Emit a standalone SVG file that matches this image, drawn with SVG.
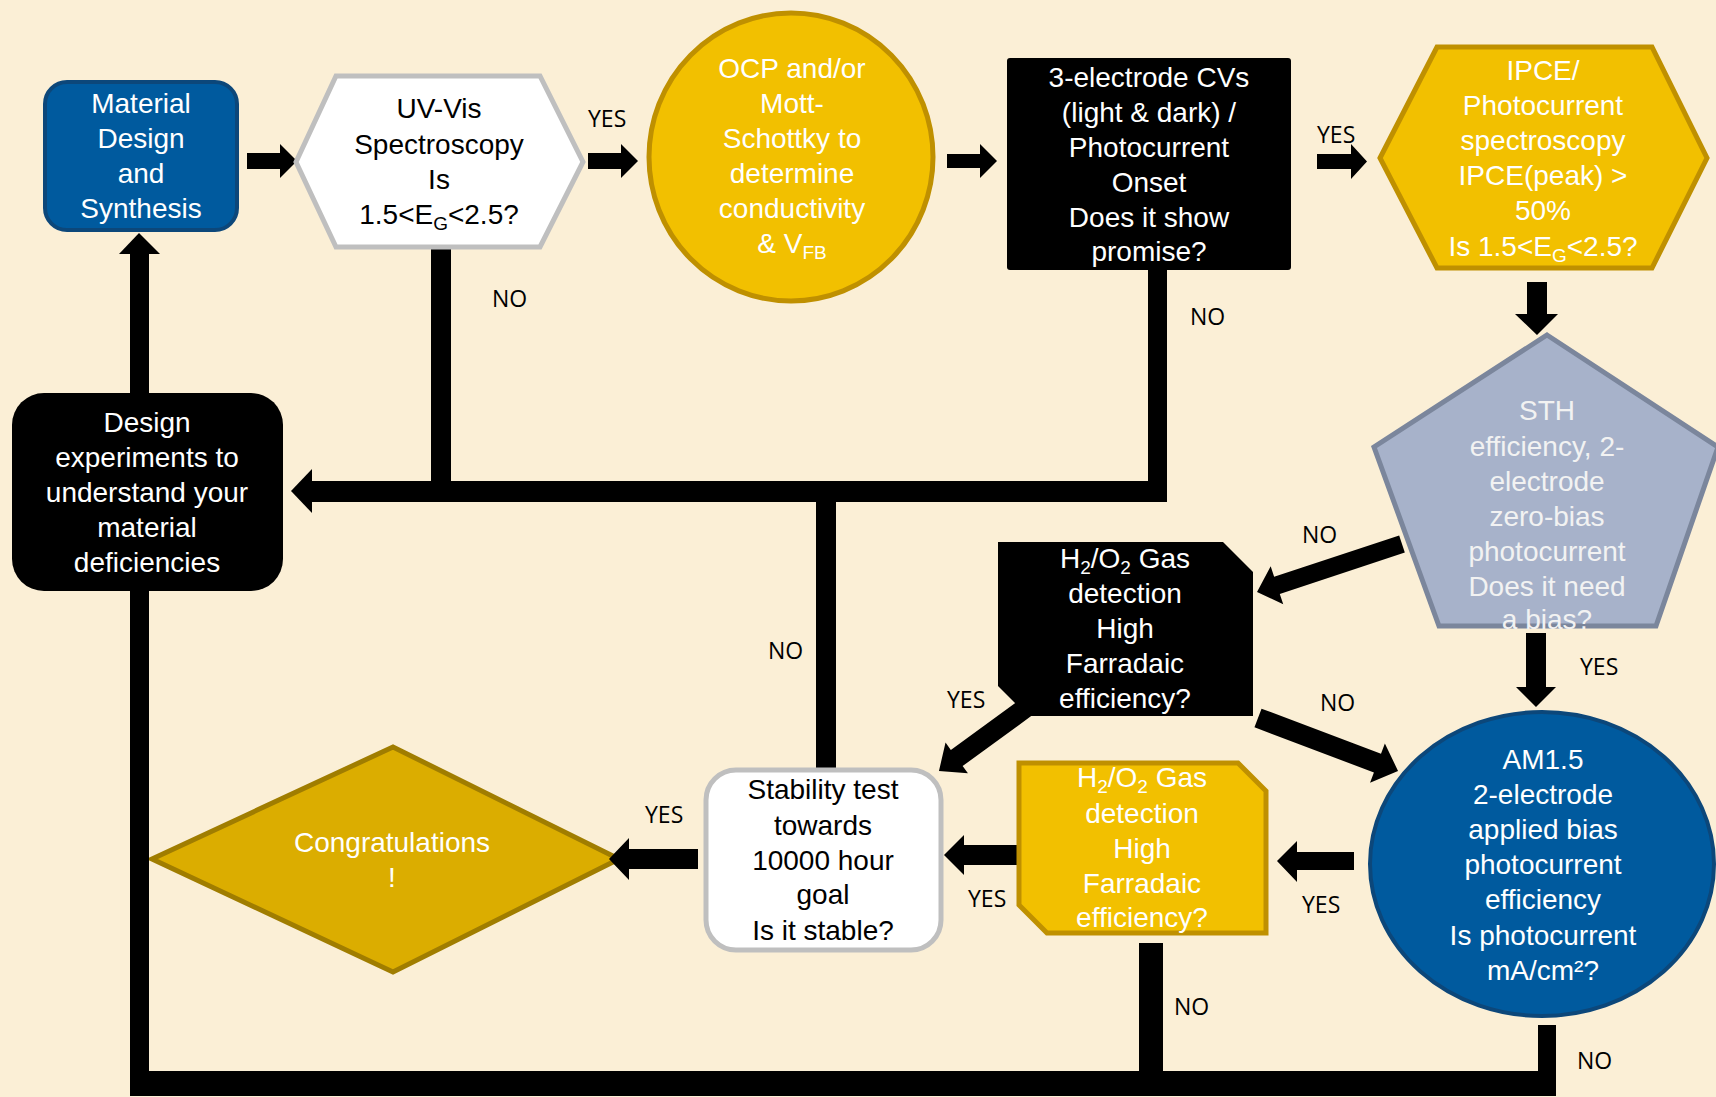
<svg xmlns="http://www.w3.org/2000/svg" width="1716" height="1097" viewBox="0 0 1716 1097">
<style>
.t{font-family:"Liberation Sans",Arial,sans-serif;font-size:28px;text-anchor:middle}
.w{fill:#ffffff}
.k{fill:#000000}
.g{fill:#f2f2f2}
.sub{font-size:19px}
.lbl{font-family:"Open Sans","Liberation Sans",sans-serif;font-size:23px;fill:#000000}
.yel{fill:#f2c000;stroke:#bf9000;stroke-width:5}
.blue{fill:#005a9e;stroke:#0c477a;stroke-width:4}
.wht{fill:#ffffff;stroke:#bfbfbf;stroke-width:5}
.blk{fill:#000000}
.bar{fill:#000000}
</style>
<rect x="0" y="0" width="1716" height="1097" fill="#fbefd6"/>

<g id="congrats">
  <polygon points="152,859 393,747 619,859 393,972" fill="#dbad00" stroke="#a07d00" stroke-width="5"/>
  <text class="t w"><tspan x="392" y="852">Congratulations</tspan><tspan x="392" y="887">!</tspan></text>
</g>

<g id="connectors">
  <!-- feedback lines -->
  <rect class="bar" x="130" y="254" width="19" height="842"/>
  <polygon class="bar" points="119,254 139,233 160,254"/>
  <rect class="bar" x="431" y="247" width="20" height="255"/>
  <rect class="bar" x="1148" y="268" width="19" height="234"/>
  <rect class="bar" x="312" y="481" width="855" height="21"/>
  <polygon class="bar" points="312,469 291,491 312,513"/>
  <rect class="bar" x="816" y="481" width="20" height="290"/>
  <rect class="bar" x="130" y="1071" width="1426" height="25"/>
  <rect class="bar" x="1139" y="943" width="24" height="153"/>
  <rect class="bar" x="1538" y="1025" width="18" height="71"/>
  <!-- flow arrows -->
  <polygon class="bar" points="247,153 280,153 280,144 297,161 280,178 280,169 247,169"/>
  <polygon class="bar" points="588,153 621,153 621,144 638,161 621,178 621,169 588,169"/>
  <polygon class="bar" points="947,154 980,154 980,144 997,161 980,178 980,168 947,168"/>
  <polygon class="bar" points="1317,154 1351,154 1351,144 1367,161.5 1351,179 1351,169 1317,169"/>
  <polygon class="bar" points="1527,282 1527,314 1515,314 1537,335 1558,314 1547,314 1547,282"/>
  <polygon class="bar" points="1526,633 1526,687 1516,687 1536,707 1556,687 1546,687 1546,633"/>
  <polygon class="bar" points="1354,852 1297,852 1297,841 1277,861 1297,882 1297,870 1354,870"/>
  <polygon class="bar" points="1019,845 964,845 964,835 944,855 964,875 964,865 1019,865"/>
  <polygon class="bar" points="698,849 629,849 629,838 609,859 629,880 629,869 698,869"/>
  <polygon class="bar" transform="translate(1402 544) rotate(161.7)" points="0,-9 131.7,-9 131.7,-20 152.7,0 131.7,20 131.7,9 0,9"/>
  <polygon class="bar" transform="translate(1258 718) rotate(20.7)" points="0,-10 127.7,-10 127.7,-21 149.7,0 127.7,21 127.7,10 0,10"/>
  <polygon class="bar" transform="translate(1028 706) rotate(143.9)" points="0,-10 88.2,-10 88.2,-19 110.2,0 88.2,19 88.2,10 0,10"/>
  <!-- labels -->
  <text class="lbl" x="588" y="127">YES</text>
  <text class="lbl" x="492" y="307">NO</text>
  <text class="lbl" x="1317" y="143">YES</text>
  <text class="lbl" x="1190" y="325">NO</text>
  <text class="lbl" x="1302" y="543">NO</text>
  <text class="lbl" x="1580" y="675">YES</text>
  <text class="lbl" x="1320" y="711">NO</text>
  <text class="lbl" x="947" y="708">YES</text>
  <text class="lbl" x="768" y="659">NO</text>
  <text class="lbl" x="645" y="823">YES</text>
  <text class="lbl" x="968" y="907">YES</text>
  <text class="lbl" x="1302" y="913">YES</text>
  <text class="lbl" x="1174" y="1015">NO</text>
  <text class="lbl" x="1577" y="1069">NO</text>
</g>

<g id="material">
  <rect class="blue" x="45" y="82" width="192" height="148" rx="22"/>
  <text class="t w"><tspan x="141" y="113">Material</tspan><tspan x="141" y="148">Design</tspan><tspan x="141" y="183">and</tspan><tspan x="141" y="218">Synthesis</tspan></text>
</g>

<g id="uvvis">
  <polygon class="wht" points="296,162 336,76 540,76 583,162 540,247 336,247"/>
  <text class="t k"><tspan x="439" y="118">UV-Vis</tspan><tspan x="439" y="154">Spectroscopy</tspan><tspan x="439" y="189">Is</tspan><tspan x="439" y="224">1.5&lt;E<tspan class="sub" dy="6">G</tspan><tspan dy="-6">&lt;2.5?</tspan></tspan></text>
</g>

<g id="ocp">
  <ellipse class="yel" cx="791" cy="157" rx="142" ry="144"/>
  <text class="t w"><tspan x="792" y="78">OCP and/or</tspan><tspan x="792" y="113">Mott-</tspan><tspan x="792" y="148">Schottky to</tspan><tspan x="792" y="183">determine</tspan><tspan x="792" y="218">conductivity</tspan><tspan x="792" y="253">&amp; V<tspan class="sub" dy="6">FB</tspan></tspan></text>
</g>

<g id="cv3">
  <rect class="blk" x="1007" y="58" width="284" height="212" rx="3"/>
  <text class="t w"><tspan x="1149" y="87">3-electrode CVs</tspan><tspan x="1149" y="122">(light &amp; dark) /</tspan><tspan x="1149" y="157">Photocurrent</tspan><tspan x="1149" y="192">Onset</tspan><tspan x="1149" y="227">Does it show</tspan><tspan x="1149" y="261">promise?</tspan></text>
</g>

<g id="ipce">
  <polygon class="yel" points="1380,158 1437,47 1652,47 1707,158 1652,268 1437,268"/>
  <text class="t w"><tspan x="1543" y="80">IPCE/</tspan><tspan x="1543" y="115">Photocurrent</tspan><tspan x="1543" y="150">spectroscopy</tspan><tspan x="1543" y="185">IPCE(peak) &gt;</tspan><tspan x="1543" y="220">50%</tspan><tspan x="1543" y="256">Is 1.5&lt;E<tspan class="sub" dy="6">G</tspan><tspan dy="-6">&lt;2.5?</tspan></tspan></text>
</g>

<g id="sth">
  <polygon points="1547,335 1718,447 1656,626 1439,626 1374,447" fill="#a7b2ca" stroke="#7b869c" stroke-width="5"/>
  <text class="t g"><tspan x="1547" y="420">STH</tspan><tspan x="1547" y="456">efficiency, 2-</tspan><tspan x="1547" y="491">electrode</tspan><tspan x="1547" y="526">zero-bias</tspan><tspan x="1547" y="561">photocurrent</tspan><tspan x="1547" y="596">Does it need</tspan><tspan x="1547" y="629">a bias?</tspan></text>
</g>

<g id="design">
  <rect class="blk" x="12" y="393" width="271" height="198" rx="32"/>
  <text class="t w"><tspan x="147" y="432">Design</tspan><tspan x="147" y="467">experiments to</tspan><tspan x="147" y="502">understand your</tspan><tspan x="147" y="537">material</tspan><tspan x="147" y="572">deficiencies</tspan></text>
</g>

<g id="gas1">
  <path class="blk" d="M998,542 H1223 L1253,572 V716 H1028 L998,686 Z"/>
  <text class="t w"><tspan x="1125" y="568">H<tspan class="sub" dy="6">2</tspan><tspan dy="-6">/O</tspan><tspan class="sub" dy="6">2</tspan><tspan dy="-6"> Gas</tspan></tspan><tspan x="1125" y="603">detection</tspan><tspan x="1125" y="638">High</tspan><tspan x="1125" y="673">Farradaic</tspan><tspan x="1125" y="708">efficiency?</tspan></text>
</g>

<g id="am15">
  <ellipse class="blue" cx="1542" cy="864" rx="172" ry="152"/>
  <text class="t w"><tspan x="1543" y="769">AM1.5</tspan><tspan x="1543" y="804">2-electrode</tspan><tspan x="1543" y="839">applied bias</tspan><tspan x="1543" y="874">photocurrent</tspan><tspan x="1543" y="909">efficiency</tspan><tspan x="1543" y="945">Is photocurrent</tspan><tspan x="1543" y="980">mA/cm²?</tspan></text>
</g>

<g id="gas2">
  <path class="yel" d="M1019,763 H1238 L1266,791 V933 H1047 L1019,905 Z"/>
  <text class="t w"><tspan x="1142" y="787">H<tspan class="sub" dy="6">2</tspan><tspan dy="-6">/O</tspan><tspan class="sub" dy="6">2</tspan><tspan dy="-6"> Gas</tspan></tspan><tspan x="1142" y="823">detection</tspan><tspan x="1142" y="858">High</tspan><tspan x="1142" y="893">Farradaic</tspan><tspan x="1142" y="927">efficiency?</tspan></text>
</g>

<g id="stability">
  <rect class="wht" x="706" y="770" width="235" height="180" rx="30"/>
  <text class="t k"><tspan x="823" y="799">Stability test</tspan><tspan x="823" y="835">towards</tspan><tspan x="823" y="870">10000 hour</tspan><tspan x="823" y="904">goal</tspan><tspan x="823" y="940">Is it stable?</tspan></text>
</g>
</svg>
